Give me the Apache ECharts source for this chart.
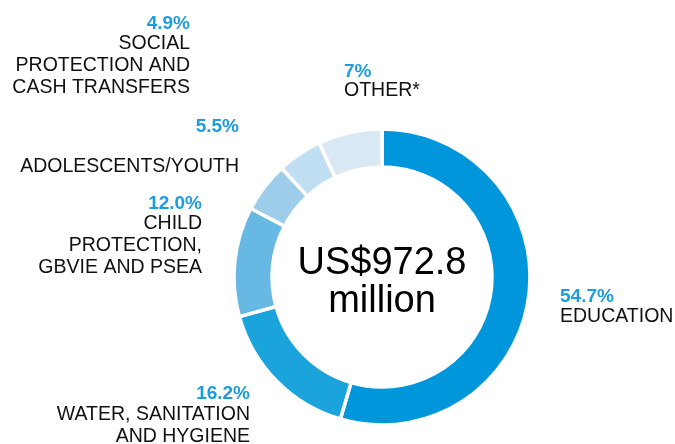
<!DOCTYPE html>
<html>
<head>
<meta charset="utf-8">
<script src="https://cdn.jsdelivr.net/npm/echarts@6/dist/echarts.min.js"></script>
<style>
  html, body { margin: 0; padding: 0; background: #ffffff; }
  #chart { width: 675px; height: 444px; }
</style>
</head>
<body>
<div id="chart"></div>
<script>
// Funding by sector, clockwise from 12 o'clock
const sectors = [
  'EDUCATION',
  'WATER, SANITATION\nAND HYGIENE',
  'CHILD\nPROTECTION,\nGBVIE AND PSEA',
  'ADOLESCENTS/YOUTH',
  'SOCIAL\nPROTECTION AND\nCASH TRANSFERS',
  'OTHER*'
];
const shares = [54.7, 16.2, 12.0, 5.5, 4.9, 7];
const shareText = ['54.7%', '16.2%', '12.0%', '5.5%', '4.9%', '7%'];
const totalLabel = 'US$972.8\nmillion';

const sliceColors = ['#0096db', '#1ba3dc', '#68b8e4', '#9dcdea', '#c1dff2', '#d8e9f4'];

// Where each sector's caption sits: anchor x, alignment, centre y of the
// percentage line and centre y of the first caption line.
const captionLayout = [
  { x: 560, align: 'left',  pctY: 297,   nameY: 316.5 },
  { x: 250, align: 'right', pctY: 394,   nameY: 414.5 },
  { x: 202, align: 'right', pctY: 204,   nameY: 224 },
  { x: 239, align: 'right', pctY: 127,   nameY: 166.5 },
  { x: 190, align: 'right', pctY: 24,    nameY: 43.5 },
  { x: 344, align: 'left',  pctY: 71.5,  nameY: 90.5 }
];

const FONT = '"Liberation Sans", Arial, Helvetica, sans-serif';
const LINE = 22;
const graphics = [];
sectors.forEach((name, i) => {
  const p = captionLayout[i];
  graphics.push({
    type: 'text', x: p.x, y: p.pctY - LINE / 2,
    style: {
      text: shareText[i], fill: '#1b9ddf', align: p.align, verticalAlign: 'top',
      font: 'bold 19px ' + FONT, lineHeight: LINE
    }
  });
  graphics.push({
    type: 'text', x: p.x, y: p.nameY - LINE / 2,
    style: {
      text: name, fill: '#111111', align: p.align, verticalAlign: 'top',
      font: '19.5px ' + FONT, lineHeight: LINE
    }
  });
});
graphics.push({
  type: 'text', x: 382, y: 282.5,
  style: {
    text: totalLabel, fill: '#000000', align: 'center', verticalAlign: 'middle',
    font: '38px ' + FONT, lineHeight: 38
  }
});

const chart = echarts.init(document.getElementById('chart'), null, { renderer: 'canvas' });
chart.setOption({
  animation: false,
  color: sliceColors,
  graphic: graphics,
  series: [{
    type: 'pie',
    center: [382, 277],
    radius: [110, 148],
    startAngle: 90,
    clockwise: true,
    label: { show: false },
    labelLine: { show: false },
    emphasis: { disabled: true },
    itemStyle: { borderColor: '#ffffff', borderWidth: 3.5 },
    data: sectors.map((name, i) => ({ name: name, value: shares[i] }))
  }]
});
</script>
</body>
</html>
